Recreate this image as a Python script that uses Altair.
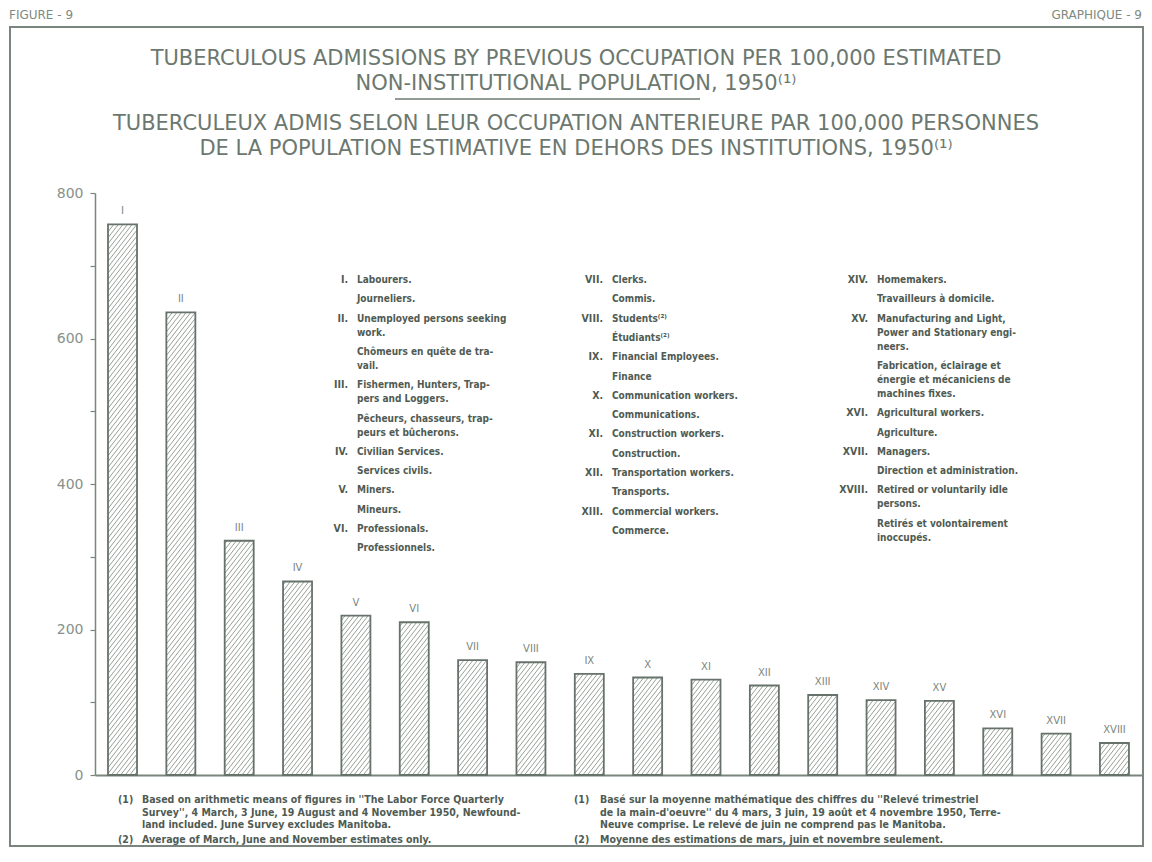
import math
import altair as alt
import pandas as pd

# ---------------- data ----------------
CATEGORIES = ["I", "II", "III", "IV", "V", "VI", "VII", "VIII", "IX", "X",
              "XI", "XII", "XIII", "XIV", "XV", "XVI", "XVII", "XVIII"]
RATES = [757, 636, 322, 266, 219, 210, 158, 155, 139, 134,
         131, 123, 110, 103, 102, 64, 57, 44]
Y_TICKS = [0, 100, 200, 300, 400, 500, 600, 700, 800]

CORNER_LEFT = "FIGURE - 9"
CORNER_RIGHT = "GRAPHIQUE - 9"
TITLE_EN = ["TUBERCULOUS ADMISSIONS BY PREVIOUS OCCUPATION PER 100,000 ESTIMATED",
            "NON-INSTITUTIONAL POPULATION, 1950\u207d\u00b9\u207e"]
TITLE_FR = ["TUBERCULEUX ADMIS SELON LEUR OCCUPATION ANTERIEURE PAR 100,000 PERSONNES",
            "DE LA POPULATION ESTIMATIVE EN DEHORS DES INSTITUTIONS, 1950\u207d\u00b9\u207e"]

LEGEND_COL1 = [
    ("I.", ["Labourers."], ["Journeliers."]),
    ("II.", ["Unemployed persons seeking", "work."], ["Chômeurs en quête de tra-", "vail."]),
    ("III.", ["Fishermen, Hunters, Trap-", "pers and Loggers."], ["Pêcheurs, chasseurs, trap-", "peurs et bûcherons."]),
    ("IV.", ["Civilian Services."], ["Services civils."]),
    ("V.", ["Miners."], ["Mineurs."]),
    ("VI.", ["Professionals."], ["Professionnels."]),
]
LEGEND_COL2 = [
    ("VII.", ["Clerks."], ["Commis."]),
    ("VIII.", ["Students\u207d\u00b2\u207e"], ["Étudiants\u207d\u00b2\u207e"]),
    ("IX.", ["Financial Employees."], ["Finance"]),
    ("X.", ["Communication workers."], ["Communications."]),
    ("XI.", ["Construction workers."], ["Construction."]),
    ("XII.", ["Transportation workers."], ["Transports."]),
    ("XIII.", ["Commercial workers."], ["Commerce."]),
]
LEGEND_COL3 = [
    ("XIV.", ["Homemakers."], ["Travailleurs à domicile."]),
    ("XV.", ["Manufacturing and Light,", "Power and Stationary engi-", "neers."],
     ["Fabrication, éclairage et", "énergie et mécaniciens de", "machines fixes."]),
    ("XVI.", ["Agricultural workers."], ["Agriculture."]),
    ("XVII.", ["Managers."], ["Direction et administration."]),
    ("XVIII.", ["Retired or voluntarily idle", "persons."], ["Retirés et volontairement", "inoccupés."]),
]

FOOT_EN = [
    ("(1)", ["Based on arithmetic means of figures in ''The Labor Force Quarterly",
             "Survey'', 4 March, 3 June, 19 August and 4 November 1950, Newfound-",
             "land included. June Survey excludes Manitoba."]),
    ("(2)", ["Average of March, June and November estimates only."]),
]
FOOT_FR = [
    ("(1)", ["Basé sur la moyenne mathématique des chiffres du ''Relevé trimestriel",
             "de la main-d'oeuvre'' du 4 mars, 3 juin, 19 août et 4 novembre 1950, Terre-",
             "Neuve comprise. Le relevé de juin ne comprend pas le Manitoba."]),
    ("(2)", ["Moyenne des estimations de mars, juin et novembre seulement."]),
]

# ---------------- layout / style ----------------
W, H = 1048, 582
PAD = {"left": 87, "top": 185, "right": 1, "bottom": 73}
X_DOMAIN = [0.5287, 0.5287 + W / 58.35]
PXU_X = W / (X_DOMAIN[1] - X_DOMAIN[0])
PXU_Y = H / 800.0
BAR_W = 29
HATCH_GAP = 4.6
HATCH_ANGLE = 52

INK = "#6c786f"
DARK = "#4f5b53"
LINE = "#7a867d"
HATCH = "#8a948c"
COND = "DejaVu Sans Condensed"


def px(page_x):
    return page_x - 8 - PAD["left"]


def py(page_y):
    return page_y - 8 - PAD["top"]


xs = alt.Scale(domain=X_DOMAIN, nice=False, zero=False, padding=0)
ys = alt.Scale(domain=[0, 800], nice=False, zero=True, padding=0)
PIX_X = alt.Scale(domain=[0, W], range=[0, W], nice=False, zero=False)
PIX_Y = alt.Scale(domain=[0, H], range=[0, H], nice=False, zero=False)

bars_df = pd.DataFrame({"idx": list(range(1, len(RATES) + 1)), "cat": CATEGORIES, "rate": RATES})

# hatch segments derived from bar values
t = math.tan(math.radians(HATCH_ANGLE))
sv = HATCH_GAP * t
hrows = []
for i, v in zip(bars_df["idx"], bars_df["rate"]):
    h = v * PXU_Y
    k0 = math.ceil(-BAR_W * t / sv)
    k1 = math.floor(h / sv)
    left = i - (BAR_W / 2) / PXU_X
    for k in range(k0, k1 + 1):
        c = k * sv + 1.5
        u0 = max(0.0, -c / t)
        u1 = min(float(BAR_W), (h - c) / t)
        if u1 - u0 < 0.5:
            continue
        v0 = u0 * t + c
        v1 = u1 * t + c
        hrows.append({"x0": left + u0 / PXU_X, "x1": left + u1 / PXU_X,
                      "y0": v0 / PXU_Y, "y1": v1 / PXU_Y})
hatch_df = pd.DataFrame(hrows)

y_axis = alt.Axis(values=Y_TICKS, labelExpr="datum.value % 200 === 0 ? datum.label : ''",
                  format="d", grid=False, title=None, domainColor=LINE, domainWidth=1.5,
                  tickColor=LINE, tickSize=5, tickWidth=1.2, labelFont="DejaVu Sans",
                  labelFontSize=14, labelColor="#87918a", labelPadding=7)
x_axis = alt.Axis(labels=False, ticks=False, grid=False, title=None,
                  domainColor=LINE, domainWidth=2)

hatch = alt.Chart(hatch_df).mark_rule(stroke=HATCH, strokeWidth=0.9).encode(
    x=alt.X("x0:Q", scale=xs, axis=x_axis), x2="x1:Q",
    y=alt.Y("y0:Q", scale=ys, axis=y_axis), y2="y1:Q")

bars = alt.Chart(bars_df).mark_bar(width=BAR_W, fill="white", fillOpacity=0,
                                   stroke="#66726a", strokeWidth=1.8).encode(
    x=alt.X("idx:Q", scale=xs, axis=x_axis),
    y=alt.Y("rate:Q", scale=ys, axis=y_axis))

bar_labels = alt.Chart(bars_df).mark_text(dy=-13, fontSize=10, font="DejaVu Sans",
                                          color="#7b867e").encode(
    x=alt.X("idx:Q", scale=xs, axis=x_axis),
    y=alt.Y("rate:Q", scale=ys, axis=y_axis),
    text="cat:N")

data_layer = alt.layer(hatch, bars, bar_labels)


def text_layer(rows, **kw):
    df = pd.DataFrame(rows, columns=["text", "x", "y"])
    return alt.Chart(df).mark_text(baseline="middle", **kw).encode(
        x=alt.X("x:Q", scale=PIX_X, axis=None),
        y=alt.Y("y:Q", scale=PIX_Y, axis=None),
        text="text:N")


# titles
title_rows = [(TITLE_EN[0], px(576), py(59)), (TITLE_EN[1], px(576), py(84)),
              (TITLE_FR[0], px(576), py(124)), (TITLE_FR[1], px(576), py(149))]
titles = text_layer(title_rows, align="center", font="DejaVu Sans", fontSize=21, color=INK)
corner_l = text_layer([(CORNER_LEFT, px(9), py(15))], align="left", font="DejaVu Sans",
                      fontSize=12, color="#7e8a81")
corner_r = text_layer([(CORNER_RIGHT, px(1142), py(15))], align="right", font="DejaVu Sans",
                      fontSize=12, color="#7e8a81")

underline = alt.Chart(pd.DataFrame({"a": [0]})).mark_rule(stroke=INK, strokeWidth=1.5).encode(
    x=alt.value(px(395)), x2=alt.value(px(700)), y=alt.value(py(99)))

frame = alt.Chart(pd.DataFrame({"a": [0]})).mark_rect(fillOpacity=0, stroke=LINE, strokeWidth=2).encode(
    x=alt.value(px(10)), x2=alt.value(px(1143)), y=alt.value(py(27)), y2=alt.value(py(846)))

# legend
PARA, WRAP = 19.3, 14.0


def legend_rows(col, text_x, top):
    nums, txts = [], []
    y = top
    first = True
    for num, en, fr in col:
        for bi, block in enumerate([en, fr]):
            if not first:
                y += PARA
            first = False
            if bi == 0:
                nums.append((num, px(text_x - 9), py(y)))
            for j, line in enumerate(block):
                if j > 0:
                    y += WRAP
                txts.append((line, px(text_x), py(y)))
    return nums, txts


LEG_TOP = 280
n1, t1 = legend_rows(LEGEND_COL1, 357, LEG_TOP)
n2, t2 = legend_rows(LEGEND_COL2, 612, LEG_TOP)
n3, t3 = legend_rows(LEGEND_COL3, 877, LEG_TOP)
leg_nums = text_layer(n1 + n2 + n3, align="right", font=COND, fontSize=10.5,
                      fontWeight="bold", color=DARK)
leg_txt = text_layer(t1 + t2 + t3, align="left", font=COND, fontSize=10,
                     fontWeight="bold", color=DARK)


# footnotes
def foot_rows(notes, num_x, text_x, top):
    nums, txts = [], []
    y = top
    first = True
    for num, lines in notes:
        if not first:
            y += 15
        first = False
        nums.append((num, px(num_x), py(y)))
        for j, line in enumerate(lines):
            if j > 0:
                y += 12.5
            txts.append((line, px(text_x), py(y)))
    return nums, txts


f1n, f1t = foot_rows(FOOT_EN, 118, 142, 800)
f2n, f2t = foot_rows(FOOT_FR, 574, 600, 800)
foot_nums = text_layer(f1n + f2n, align="left", font=COND, fontSize=10.5,
                       fontWeight="bold", color=DARK)
foot_txt = text_layer(f1t + f2t, align="left", font=COND, fontSize=10.5,
                      fontWeight="bold", color=DARK)

chart = alt.layer(
    data_layer, frame, titles, underline, corner_l, corner_r,
    leg_nums, leg_txt, foot_nums, foot_txt
).resolve_scale(
    x="independent", y="independent"
).properties(
    width=W, height=H, padding=PAD,
    autosize=alt.AutoSizeParams(type="none"),
    background="white"
).configure_view(strokeWidth=0)

chart.save("out.html", embed_options={"renderer": "svg", "actions": False})
